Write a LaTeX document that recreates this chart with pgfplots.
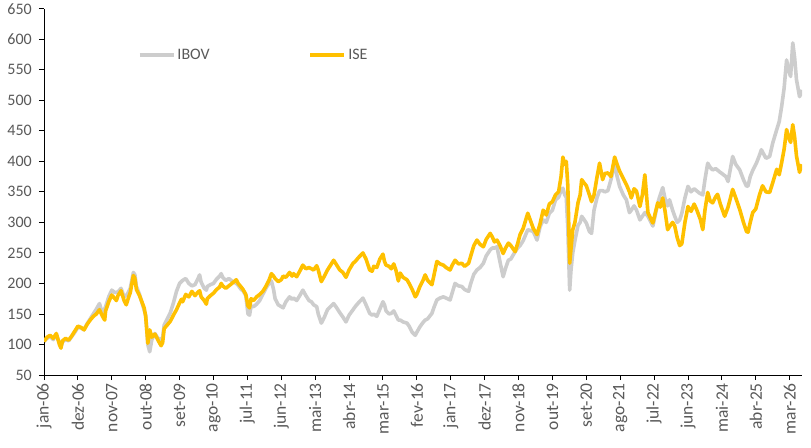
\documentclass[border=0pt]{standalone}
\usepackage{pgfplots}
\pgfplotsset{compat=1.18}
\usepackage{pgfplotstable}
\usepackage{fontspec}
\setmainfont{Carlito}
\definecolor{ibov}{RGB}{205,205,205}
\definecolor{ise}{RGB}{255,192,0}
\definecolor{txt}{RGB}{89,89,89}

\pgfplotstableread{
m v
0 105
1 110
2 113
3 108
4 116
5 103
5.5 97
6 104
7 108
8 106
9 113
10 120
11 128
12 127
13 124
14 134
15 142
16 150
17 158
18 167
19 150
20 162
21 178
22 189
23 185
24 186
25 192
26 178
27 182
28 192
29 218
29.5 214
30 195
31 182
32 165
33 148
33.7 100
34.3 88
35 108
36 118
37 110
38 108
38.5 112
39 132
40 142
41 152
42 168
43 187
44 200
44.6 203
45 205
46 208
47 200
48 196
49 198
50 208
50.5 214
51 202
52 192
52.7 189
53 195
54 198
55 200
56 207
57 212
57.5 216
58 210
59 205
60 208
61 204
62.4 200
63 197
64 190
64.6 188
65.5 180
66.2 150
66.7 148
67.2 163
68 162
69 166
70 172
71 182
72 192
73 200
73.8 204
74.5 190
75 175
76 165
77 162
77.6 160
78.5 170
79.7 178
80.5 174
81 176
82 172
83 180
84 189
85 180
86 172
86.8 170
87.5 165
88.5 162
89 150
90 135
91 145
92 157
93 162
94 167
95 160
96 152
97 145
98 137
99 148
100.3 157
101 162
102 168
103.5 176
104.5 165
105.7 151
106.5 148
107 150
108 146
109 158
110 170
110.5 165
111 155
112 150
112.7 151
113.5 155
114.2 148
115 140
115.6 140
116.5 137
117.8 135
118.5 130
119.5 120
120.5 115
121 120
122 129
123 136
123.7 140
124.5 142
125.9 151
126.5 160
127.5 173
128.5 176
129.6 178
130.5 176
131.8 173
132.5 185
133.4 200
134.5 196
135.6 195
136.5 190
137.8 187
138.5 200
139.5 215
140.5 222
141.5 226
142.6 233
143.5 245
144.8 255
145.5 258
146.2 258
147 260
148 235
149 211
149.8 225
150.7 238
151.5 240
152.9 252
153.7 258
154.5 262
155.5 270
157 288
158.8 285
160 271
161 293
162 304
163 300
164 315
165 320
166 337
167 341
167.8 352
168.4 356
169 345
169.5 341
170 290
170.6 189
171 220
171.6 250
172.3 270
173.3 295
174 300
174.5 310
175.2 305
176 299
177 285
177.7 282
178.5 320
179.5 341
180.3 352
181.3 352
182 350
183 352
184 370
185.2 397
186 375
186.8 359
188 345
189 337
190 316
190.6 320
191.5 327
192.3 320
193.4 304
194.2 310
195 316
196 310
197 300
197.6 294
198.5 315
199.2 332
200 345
200.8 357
201.5 340
202.4 327
203 337
204 320
204.7 310
205.5 300
206.3 304
207 315
208 340
209 359
210 350
211 355
212.7 348
213.8 345
214.5 370
215.4 397
216.2 390
217 386
218 388
219.2 383
220 380
221.3 375
222 367
223.5 408
224.5 395
225.8 386
227 370
228 359
228.5 360
229.2 375
230 385
231.2 397
232.2 410
232.8 419
234.3 405
235.5 408
236.5 430
237.8 452
238.6 465
239.4 490
240.2 520
241 566
241.6 550
242.3 539
243 594
243.6 570
244.2 534
245.2 506
245.6 510
246 517
}\ibovtable

\pgfplotstableread{
m v
0 105
1 112
2 115
3 110
4 118
5 100
5.5 94
6 106
7 110
8 107
9 114
10 122
11 130
12 128
13 124
14 133
15 140
16 146
17 150
18 157
19 146
19.7 140
20 155
21 170
22 181
23 175
23.5 172
24 180
25 188
26 172
26.7 165
27.5 178
28 185
29 213
29.5 208
30 190
31 180
31.6 172
32.5 160
33 146
33.7 102
34.3 124
35 112
36 117
37 107
38 98
38.5 103
39 126
40 132
41 138
42 148
43 157
44 168
44.6 174
45 170
46 182
47 178
48 187
49 180
50 186
50.5 188
51 178
52 172
52.7 166
53 175
54 180
55 184
56 190
57 194
57.5 200
58 196
59 192
60 196
61 200
62.4 206
63 200
64 194
64.6 190
65.5 182
66.2 163
66.7 160
67.2 175
68 172
69 178
70 182
71 187
72 195
73 205
73.8 216
74.5 212
75 208
76 203
77 206
77.6 212
78.5 210
79.7 218
80.5 212
81 216
82 211
83 220
84 230
85 224
86 226
86.8 224
87.5 222
88.5 229
89 222
90 203
91 212
92 222
93 230
94 238
95 230
96 222
97 218
98 210
99 222
100.3 233
101 236
102 242
103.5 250
104.5 240
105.7 222
106.5 220
107 228
108 226
109 240
110 248
110.5 236
111 230
112 228
112.7 224
113.5 232
114.2 222
115 204
115.6 217
116.5 210
117.8 206
118.5 200
119.5 190
120.5 178
121 182
122 195
123 205
123.7 214
124.5 205
125.9 198
126.5 212
127.5 236
128.5 232
129.6 230
130.5 226
131.8 222
132.5 230
133.4 238
134.5 232
135.6 233
136.5 228
137.8 233
138.5 245
139.5 262
140.5 271
141.5 264
142.6 260
143.5 272
144.8 282
145.5 276
146.2 268
147 271
148 262
149 249
149.8 258
150.7 266
151.5 262
152.9 252
153.7 265
154.5 280
155.5 290
157 315
158.8 290
160 280
161 298
162 320
163 312
164 330
165 334
166 345
167 350
167.8 375
168.4 407
169 395
169.5 400
170 360
170.6 233
171 255
171.6 288
172.3 300
173.3 332
174 345
174.5 370
175.2 365
176 360
177 345
177.7 334
178.5 345
179.5 375
180.3 397
181.3 370
182 380
183 381
184 375
185.2 407
186 395
186.8 384
188 372
189 362
190 350
190.6 340
191.5 355
192.3 351
193.4 326
194.2 345
195 378
196 316
197 305
197.6 299
198.5 318
199.2 332
200 325
200.8 340
201.5 320
202.4 288
203 293
204 300
204.7 294
205.5 275
206.3 262
207 265
208 300
209 326
210 318
211 330
211.8 321
213 305
213.8 288
214.5 320
215.4 349
216.2 335
217 332
218 342
218.6 346
219.5 330
220.9 310
222 325
223.5 354
224.5 340
225.8 321
227 300
228 285
228.5 284
229.2 300
230 316
231 322
232.2 345
233.2 360
234.3 350
235.5 349
236.5 365
237.8 387
238.6 378
239.4 398
240.2 420
241 452
241.6 440
242.3 431
243 460
243.6 440
244.2 409
245.2 382
245.6 390
246 395
}\isetable

\begin{document}
\begin{tikzpicture}
\begin{axis}[
  at={(44pt,72pt)}, anchor=south west,
  scale only axis, width=758pt, height=366.3pt,
  xmin=0, xmax=246, ymin=50, ymax=650,
  axis x line*=bottom, axis y line*=left,
  axis line style={black, line width=0.9pt},
  tick style={black, line width=0.9pt},
  tick align=outside, major tick length=5pt,
  xtick={0,11,...,242},
  xticklabels={jan-06,dez-06,nov-07,out-08,set-09,ago-10,jul-11,jun-12,mai-13,abr-14,mar-15,fev-16,jan-17,dez-17,nov-18,out-19,set-20,ago-21,jul-22,jun-23,mai-24,abr-25,mar-26},
  xticklabel style={rotate=90, anchor=east, inner sep=3pt, font=\fontsize{17.5}{19}\selectfont, text=txt},
  ytick={50,100,...,650},
  yticklabel style={font=\fontsize{16}{18}\selectfont, text=txt, inner sep=2pt, xshift=-5pt},
  /pgf/number format/assume math mode=true,
  legend columns=2,
  legend style={at={(0.1236,0.8736)}, anchor=west, draw=none, fill=none,
    font=\fontsize{16}{18}\selectfont, text=txt, inner sep=0pt,
    /tikz/every even column/.append style={column sep=97pt}},
  legend image code/.code={\draw[#1] (0pt,0pt) -- (34pt,0pt);},
]
\addplot[ibov, line width=3.6pt, line join=round] table[x=m, y=v] {\ibovtable};
\addlegendentry{IBOV}
\addplot[ise, line width=3.6pt, line join=round] table[x=m, y=v] {\isetable};
\addlegendentry{ISE}
\end{axis}
\pgfresetboundingbox
\path[use as bounding box] (0,0) rectangle (811pt,447pt);
\end{tikzpicture}
\end{document}
